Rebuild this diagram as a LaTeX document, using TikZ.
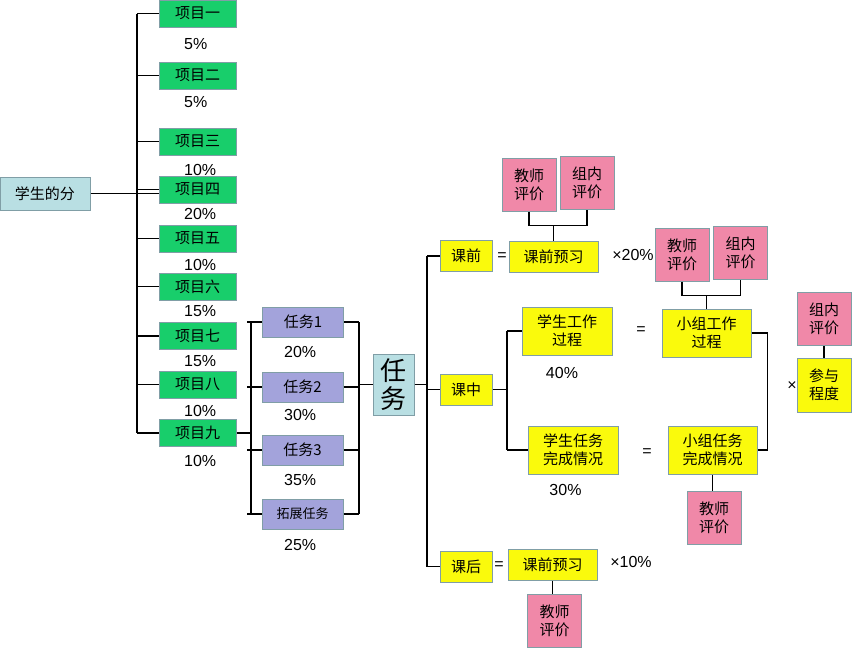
\documentclass[tikz,border=0pt]{standalone}
\usepackage{fontspec}
\setmainfont{Liberation Sans}
\newfontfamily\cjk{Noto Sans CJK SC}
\usetikzlibrary{positioning,calc}
\definecolor{itemgreen}{RGB}{24,206,107}
\definecolor{taskpurple}{RGB}{163,163,219}
\definecolor{headblue}{RGB}{185,223,227}
\definecolor{evalpink}{RGB}{240,136,168}
\definecolor{partyellow}{RGB}{250,250,12}
\definecolor{boxline}{RGB}{128,158,166}

\begin{document}
\begin{tikzpicture}[
  x=1pt,y=-1pt,
  box/.style={draw=boxline, line width=1pt, inner sep=0pt, align=center, font=\cjk\fontsize{15}{18}\selectfont},
  item/.style={box, fill=itemgreen, minimum width=77pt, minimum height=27pt},
  task/.style={box, fill=taskpurple, minimum width=81pt, minimum height=30pt},
  head/.style={box, fill=headblue},
  eval/.style={box, fill=evalpink, minimum width=54pt, minimum height=53pt},
  part/.style={box, fill=partyellow, minimum height=31pt},
  pct/.style={font=\fontsize{16}{19}\selectfont, inner sep=0pt},
  link/.style={line width=1.1pt}
]
\useasboundingbox (0,0) rectangle (852,648);
\node[head, minimum width=90pt, minimum height=33pt] (score) at (45,193.5) {学生的分};
\node[item] (x1) at (197.5,13.6) {项目一};
\node[item] (x2) at (197.5,75.5) {项目二};
\node[item] (x3) at (197.5,141.5) {项目三};
\node[item] (x4) at (197.5,189.5) {项目四};
\node[item] (x5) at (197.5,238.5) {项目五};
\node[item] (x6) at (197.5,286.5) {项目六};
\node[item] (x7) at (197.5,336) {项目七};
\node[item] (x8) at (197.5,384.5) {项目八};
\node[item] (x9) at (197.5,433) {项目九};
\node[pct, anchor=west] (px1) at (184,44) {5\%};
\node[pct, anchor=west] (px2) at (184,102) {5\%};
\node[pct, anchor=west] (px3) at (184,170) {10\%};
\node[pct, anchor=west] (px4) at (184,214) {20\%};
\node[pct, anchor=west] (px5) at (184,265) {10\%};
\node[pct, anchor=west] (px6) at (184,311) {15\%};
\node[pct, anchor=west] (px7) at (184,361) {15\%};
\node[pct, anchor=west] (px8) at (184,411) {10\%};
\node[pct, anchor=west] (px9) at (184,461) {10\%};
\coordinate (busA) at (137,0);
\draw[link] (busA |- x1.west) -- (busA |- x9.west);
\foreach \i in {1,...,9} \draw[link] (busA |- x\i.west) -- (x\i.west);
\draw[link] (score.east) -- (score.east -| x4.west);

\node[task] (t1) at (303,322) {任务1};
\node[task] (t2) at (302.5,387) {任务2};
\node[task] (t3) at (302.5,450) {任务3};
\node[task, font=\cjk\fontsize{13}{16}\selectfont] (t4) at (302.5,514) {拓展任务};
\node[pct, anchor=west] (pt1) at (284,352) {20\%};
\node[pct, anchor=west] (pt2) at (284,415) {30\%};
\node[pct, anchor=west] (pt3) at (284,480) {35\%};
\node[pct, anchor=west] (pt4) at (284,545) {25\%};
\coordinate (busB) at (251,0);
\coordinate (busC) at (359,0);
\draw[link] (busB |- t1.west) -- (busB |- t4.west);
\draw[link] (busC |- t1.east) -- (busC |- t4.east);
\foreach \i in {1,...,4} {
  \draw[link] ([xshift=-4pt]busB |- t\i.west) -- (t\i.west);
  \draw[link] (t\i.east) -- (busC |- t\i.east);
}
\draw[link] (x9.east) -- (busB |- x9.east);
\node[head, minimum width=41pt, minimum height=61pt, font=\cjk\fontsize{26}{28}\selectfont] (task) at (393.5,384.5) {任\\务};
\draw[link] (busC |- task.west) -- (task.west);

\node[part, minimum width=52pt] (pre) at (466,256) {课前};
\node[part, minimum width=52pt] (mid) at (466,389.5) {课中};
\node[part, minimum width=52pt] (post) at (466,566.5) {课后};
\coordinate (busD) at (427,0);
\draw[link] (task.east) -- (busD |- task.east);
\draw[link] (busD |- pre.west) -- (busD |- post.west);
\foreach \n in {pre,mid,post} \draw[link] (busD |- \n.west) -- (\n.west);

\node[pct] (eq1) at (502,257) {=};
\node[part, minimum width=89pt] (preview) at (553.5,256.5) {课前预习};
\node[pct] (w1) at (633,255) {×20\%};
\node[eval] (tp1) at (529,184.5) {教师\\评价};
\node[eval] (tp2) at (587,182.5) {组内\\评价};
\coordinate (j1) at ([yshift=15pt]preview.north);
\draw[link] (tp1.south) |- (j1) -| (tp2.south);
\draw[link] (j1) -- (preview.north);

\node[part, minimum width=90pt, minimum height=48pt] (wk) at (567,331) {学生工作\\过程};
\node[part, minimum width=90pt, minimum height=48pt] (tk) at (573,450) {学生任务\\完成情况};
\node[pct] (pw) at (562,373) {40\%};
\node[pct] (pk) at (565.5,490) {30\%};
\coordinate (busE) at (507,0);
\draw[link] (mid.east) -- (busE |- mid.east);
\draw[link] (busE |- wk.west) -- (busE |- tk.west);
\draw[link] (busE |- wk.west) -- (wk.west);
\draw[link] (busE |- tk.west) -- (tk.west);
\node[pct] (eq2) at (641,331) {=};
\node[pct] (eq3) at (647,453) {=};
\node[part, minimum width=89pt, minimum height=48pt] (gw) at (706.5,333) {小组工作\\过程};
\node[part, minimum width=89pt, minimum height=48pt] (gt) at (712.5,450) {小组任务\\完成情况};
\node[eval] (mp1) at (682,254.5) {教师\\评价};
\node[eval] (mp2) at (740.5,253) {组内\\评价};
\coordinate (j2) at ([yshift=13pt]gw.north);
\draw[link] (mp1.south) |- (j2) -| (mp2.south);
\draw[link] (j2) -- (gw.north);
\draw[link] (gw.east) -- ++(16,0) |- (gt.east);
\node[eval] (bp) at (714,517.5) {教师\\评价};
\draw[link] (gt.south) -- (gt.south |- bp.north);
\node[eval] (rp) at (824,319) {组内\\评价};
\node[part, minimum width=54pt, minimum height=54pt] (join) at (824,385) {参与\\程度};
\draw[link] (rp.south) -- (join.north);
\node[pct] (times) at (792,386) {×};

\node[pct] (eq4) at (499,566) {=};
\node[part, minimum width=89pt] (review) at (552.5,564.5) {课前预习};
\node[pct] (w2) at (631,562) {×10\%};
\node[eval] (pp) at (554.5,620.5) {教师\\评价};
\draw[link] (review.south) -- (review.south |- pp.north);
\end{tikzpicture}
\end{document}
